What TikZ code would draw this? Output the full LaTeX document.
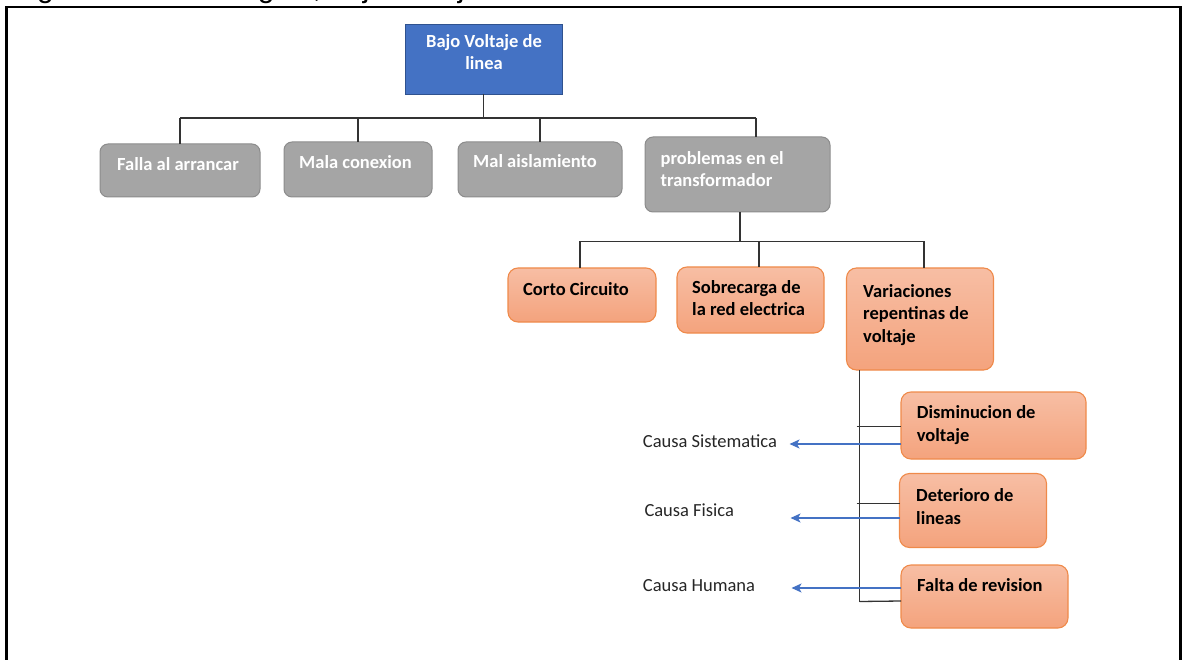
\documentclass[tikz,border=0pt]{standalone}
\usepackage{fontspec}
\setmainfont{Carlito}
\newfontfamily\captionfont{Liberation Sans}
\usetikzlibrary{arrows.meta}

\definecolor{hdrblue}{HTML}{4472C4}
\definecolor{hdrbluedark}{HTML}{2F528F}
\definecolor{causegray}{HTML}{A5A5A5}
\definecolor{causegrayline}{HTML}{8C8C8C}
\definecolor{subtop}{HTML}{F7BEA4}
\definecolor{subbot}{HTML}{F4A37D}
\definecolor{subline}{HTML}{EF8A4A}
\definecolor{treeline}{HTML}{333333}
\definecolor{labelgray}{HTML}{262626}

\begin{document}
\begin{tikzpicture}[x=1pt,y=-1pt,
  box/.style={draw, anchor=north west, inner sep=0pt, outer sep=0pt},
  mainbox/.style={box, fill=hdrblue, draw=hdrbluedark, line width=0.8pt},
  graybox/.style={box, fill=causegray, draw=causegrayline, line width=1pt, rounded corners=8pt},
  orangebox/.style={box, top color=subtop, bottom color=subbot, draw=subline, line width=1.1pt, rounded corners=10pt},
  % multi-line texts are placed by the baseline of their last line
  boxtext/.style={anchor=base west, inner sep=0pt, align=left,
    font=\fontsize{18.5}{22.5}\selectfont\bfseries},
  whitetext/.style={boxtext, text=white},
  darktext/.style={boxtext, text=black},
  causetext/.style={anchor=base west, inner sep=0pt, text=labelgray,
    font=\fontsize{18.5}{22.5}\selectfont},
  tree/.style={draw=treeline, line width=1.3pt},
  causearrow/.style={draw=hdrblue, line width=1.2pt, -{Stealth[length=10pt,width=9pt,inset=2.5pt]}}
]
\useasboundingbox (0,0) rectangle (1183,660);

% caption above the frame (cut by the page edge)
\node[anchor=base west, inner sep=0pt, font=\captionfont\fontsize{30}{36}\selectfont]
  (caption) at (12,-2) {Figura 11. Árbol lógico, bajo voltaje de línea};

% outer frame, open at the bottom
\draw[line width=2.4pt, line join=miter] (6.3,665) -- (6.3,7) -- (1180.5,7) -- (1180.5,665);

% root
\node[mainbox, minimum width=157.5pt, minimum height=69.5pt] (root) at (405,24.5) {};
\node[anchor=base, inner sep=0pt, align=center, text=white,
  font=\fontsize{18.5}{22}\selectfont\bfseries] (roottxt) at (484,70) {Bajo Voltaje de\\linea};

% first level causes
\node[graybox, minimum width=160pt, minimum height=53pt] (falla) at (100,144) {};
\node[whitetext] (fallatxt) at (117,171) {Falla al arrancar};
\node[graybox, minimum width=148pt, minimum height=55pt] (mala) at (284,142) {};
\node[whitetext] (malatxt) at (299,169) {Mala conexion};
\node[graybox, minimum width=164pt, minimum height=55pt] (aisl) at (458,142) {};
\node[whitetext] (aisltxt) at (473,168) {Mal aislamiento};
\node[graybox, minimum width=185pt, minimum height=75pt] (trafo) at (645,137) {};
\node[whitetext] (trafotxt) at (660.5,187) {problemas en el\\transformador};

% second level
\node[orangebox, minimum width=148pt, minimum height=54pt] (corto) at (508,268) {};
\node[darktext] (cortotxt) at (523,295) {Corto Circuito};
\node[orangebox, minimum width=147pt, minimum height=66pt] (sobre) at (677,267) {};
\node[darktext] (sobretxt) at (692,316) {Sobrecarga de\\la red electrica};
\node[orangebox, minimum width=147pt, minimum height=102pt] (vari) at (846.5,268) {};
\node[darktext] (varitxt) at (863,342) {Variaciones\\repentinas de\\voltaje};

% third level
\node[orangebox, minimum width=185pt, minimum height=67pt] (dism) at (901,392) {};
\node[darktext] (dismtxt) at (916.7,441) {Disminucion de\\voltaje};
\node[orangebox, minimum width=147pt, minimum height=74pt] (dete) at (899.5,473.5) {};
\node[darktext] (detetxt) at (916,524) {Deterioro de\\lineas};
\node[orangebox, minimum width=167pt, minimum height=63pt] (falt) at (901,565) {};
\node[darktext] (falttxt) at (917,591.5) {Falta de revision};

% cause labels
\node[causetext] (csis) at (642.7,447.3) {Causa Sistematica};
\node[causetext] (cfis) at (644.3,516) {Causa Fisica};
\node[causetext] (chum) at (642.7,591.7) {Causa Humana};

% bus lines of the tree
\coordinate (busA) at (0,118);
\coordinate (busB) at (0,241.5);
\coordinate (trafodrop) at (756,0);
\coordinate (cortodrop) at (580,0);
\coordinate (sobredrop) at (759,0);
\coordinate (varidrop) at (924,0);
\coordinate (trafoout) at (740,0);

\draw[tree] (root.south) -- (root.south |- busA);
\draw[tree] (falla.north |- busA) -- (trafodrop |- busA);
\draw[tree] (falla.north |- busA) -- (falla.north);
\draw[tree] (mala.north |- busA) -- (mala.north);
\draw[tree] (aisl.north |- busA) -- (aisl.north);
\draw[tree] (trafodrop |- busA) -- (trafodrop |- trafo.north);

\draw[tree] (trafoout |- trafo.south) -- (trafoout |- busB);
\draw[tree] (cortodrop |- busB) -- (varidrop |- busB);
\draw[tree] (cortodrop |- busB) -- (cortodrop |- corto.north);
\draw[tree] (sobredrop |- busB) -- (sobredrop |- sobre.north);
\draw[tree] (varidrop |- busB) -- (varidrop |- vari.north);

% spine below "Variaciones"
\coordinate (spinetop) at (859.5,0);
\coordinate (spinebot) at (859.5,601.5);
\draw[tree] (spinetop |- vari.south) -- (spinebot);
\draw[tree] (856.5,426.7) -- (dism.west |- 0,426.7);
\draw[tree] (856.5,503.3) -- (dete.west |- 0,503.3);
\draw[tree] (spinebot) -- (falt.west |- 0,601);

% arrows to the cause labels
\coordinate (tipsis) at (789.5,444);
\coordinate (tipfis) at (790.5,518);
\coordinate (tiphum) at (791.5,588);
\draw[causearrow] (dism.west |- tipsis) -- (tipsis);
\draw[causearrow] (dete.west |- tipfis) -- (tipfis);
\draw[causearrow] (falt.west |- tiphum) -- (tiphum);
\end{tikzpicture}
\end{document}
